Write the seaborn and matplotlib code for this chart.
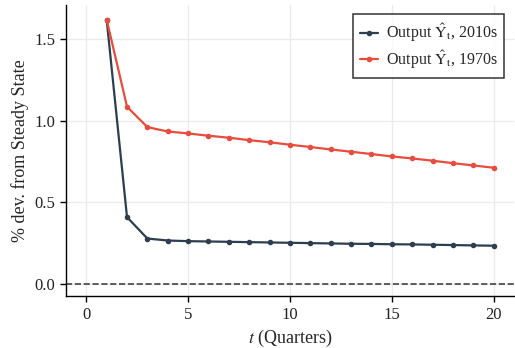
import numpy as np
import pandas as pd
import matplotlib.pyplot as plt
import seaborn as sns

quarters = list(range(1, 21))
output_2010s = [1.62, 0.409, 0.278, 0.266, 0.262, 0.260, 0.258, 0.256, 0.254, 0.252,
                0.250, 0.248, 0.246, 0.245, 0.243, 0.242, 0.240, 0.238, 0.236, 0.234]
output_1970s = [1.62, 1.086, 0.961, 0.934, 0.922, 0.908, 0.896, 0.881, 0.868, 0.853,
                0.839, 0.824, 0.810, 0.796, 0.781, 0.769, 0.755, 0.740, 0.726, 0.712]
labels = [r'Output $\hat{\mathrm{Y}}_{\mathrm{t}}$, 2010s',
          r'Output $\hat{\mathrm{Y}}_{\mathrm{t}}$, 1970s']

df = pd.DataFrame({
    't': quarters * 2,
    'value': output_2010s + output_1970s,
    'series': [labels[0]] * 20 + [labels[1]] * 20,
})

sns.set_style('whitegrid')
plt.rcParams['font.family'] = ['Liberation Serif', 'DejaVu Serif']
plt.rcParams['mathtext.fontset'] = 'stix'

fig = plt.figure(figsize=(5.15, 3.48), dpi=100)
ax = fig.add_axes([0.128, 0.149, 0.870, 0.837])

sns.lineplot(data=df, x='t', y='value', hue='series', palette=['#2c3e50', '#e74c3c'],
             marker='o', markersize=4, markeredgewidth=0, linewidth=1.6, ax=ax)
ax.axhline(0, color='#444444', linestyle='--', linewidth=1.2)

ax.set_xlim(-1, 21)
ax.set_ylim(-0.075, 1.71)
ax.set_xticks([0, 5, 10, 15, 20])
ax.set_yticks([0.0, 0.5, 1.0, 1.5])
ax.set_yticklabels(['0.0', '0.5', '1.0', '1.5'])
ax.grid(True, color='#ebebeb', linewidth=1)
for s in ['top', 'right']:
    ax.spines[s].set_visible(False)
for s in ['left', 'bottom']:
    ax.spines[s].set_color('black')
    ax.spines[s].set_linewidth(1)
ax.tick_params(axis='both', direction='out', length=4, width=1, color='black',
               labelsize=12, labelcolor='#222222', bottom=True, left=True)
ax.set_xlabel(r'$t$ (Quarters)', fontsize=13)
ax.set_ylabel('% dev. from Steady State', fontsize=13)

leg = ax.legend(title=None, loc='upper right', fontsize=11.5, frameon=True, fancybox=False,
                edgecolor='black', handlelength=1.1, handletextpad=0.5,
                labelspacing=0.25, borderpad=0.45, borderaxespad=0.6)
leg.get_frame().set_linewidth(1.1)

fig.savefig('out.png', dpi=100)
